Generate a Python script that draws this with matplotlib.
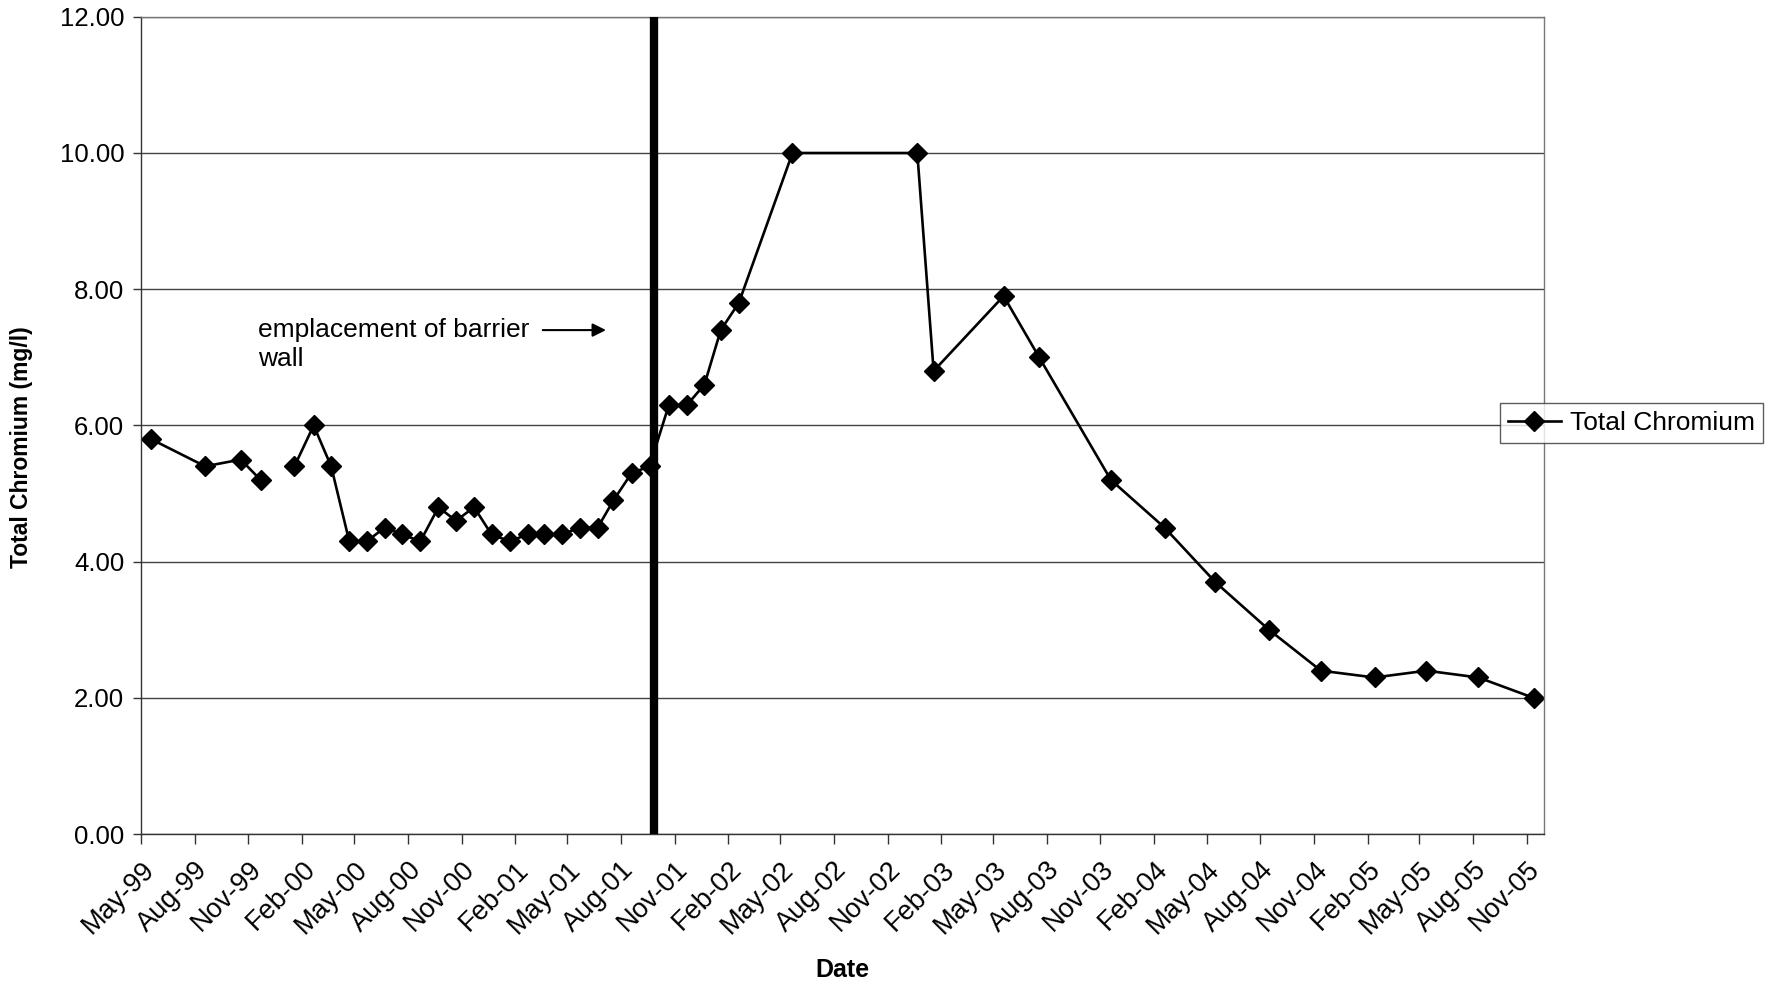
import numpy as np
import pandas as pd
import matplotlib
matplotlib.use('Agg')
import matplotlib.pyplot as plt
import matplotlib.dates as mdates
from matplotlib.ticker import FormatStrFormatter

# Sampling dates and total chromium (mg/l); a gap in the record after the 4th sample
dates = pd.to_datetime([
    '1999-05-18', '1999-08-19', '1999-10-19', '1999-11-22',
    '2000-01-19', '2000-02-21', '2000-03-22', '2000-04-22', '2000-05-22',
    '2000-06-22', '2000-07-22', '2000-08-22', '2000-09-22', '2000-10-22',
    '2000-11-22', '2000-12-22', '2001-01-22', '2001-02-22', '2001-03-22',
    '2001-04-22', '2001-05-22', '2001-06-22', '2001-07-19', '2001-08-19',
    '2001-09-19', '2001-10-22', '2001-11-22', '2001-12-22', '2002-01-19',
    '2002-02-19', '2002-05-22', '2002-12-22', '2003-01-19', '2003-05-19',
    '2003-07-19', '2003-11-19', '2004-02-19', '2004-05-16', '2004-08-16',
    '2004-11-13', '2005-02-13', '2005-05-13', '2005-08-10', '2005-11-13',
])
chromium = [
    5.8, 5.4, 5.5, 5.2,
    5.4, 6.0, 5.4, 4.3, 4.3,
    4.5, 4.4, 4.3, 4.8, 4.6,
    4.8, 4.4, 4.3, 4.4, 4.4,
    4.4, 4.5, 4.5, 4.9, 5.3,
    5.4, 6.3, 6.3, 6.6, 7.4,
    7.8, 10.0, 10.0, 6.8, 7.9,
    7.0, 5.2, 4.5, 3.7, 3.0,
    2.4, 2.3, 2.4, 2.3, 2.0,
]
gap_after = 4
barrier_date = pd.Timestamp('2001-09-27')

plt.rcParams['font.family'] = ['Liberation Sans', 'DejaVu Sans']

fig = plt.figure(figsize=(17.74, 9.86), dpi=100)
ax = fig.add_axes([0.0795, 0.154, 0.791, 0.829])

style = dict(color='black', lw=1.9, marker='D', markersize=10,
             markerfacecolor='black', markeredgecolor='black')
line, = ax.plot(dates[:gap_after], chromium[:gap_after], **style)
ax.plot(dates[gap_after:], chromium[gap_after:], **style)

# barrier wall emplacement
ax.plot([barrier_date, barrier_date], [0, 12], color='black', lw=6, solid_capstyle='butt', zorder=4)

ax.set_ylim(0, 12)
ax.set_xlim(pd.Timestamp('1999-05-01'), pd.Timestamp('2005-12-01'))
ax.set_yticks(np.arange(0, 12.1, 2))
ax.yaxis.set_major_formatter(FormatStrFormatter('%.2f'))
ax.xaxis.set_major_locator(mdates.MonthLocator(bymonth=[2, 5, 8, 11]))
ax.xaxis.set_major_formatter(mdates.DateFormatter('%b-%y'))

ax.grid(axis='y', color='#444444', lw=1)
ax.set_axisbelow(True)
for s in ['top', 'right']:
    ax.spines[s].set_color('#777777')
    ax.spines[s].set_linewidth(1)
for s in ['left', 'bottom']:
    ax.spines[s].set_color('#333333')
    ax.spines[s].set_linewidth(1)

ax.tick_params(axis='y', length=6, width=1, color='#333333', pad=6, labelsize=18.5)
ax.tick_params(axis='x', length=7, width=1, color='#333333', pad=9, labelsize=19.5)
for lab in ax.get_xticklabels():
    lab.set_rotation(45)
    lab.set_ha('right')
    lab.set_rotation_mode('anchor')

ax.set_ylabel('Total Chromium (mg/l)', fontsize=16.5, fontweight='bold')
ax.yaxis.set_label_coords(-0.077, 0.474)
ax.set_xlabel('Date', fontsize=18, fontweight='bold')
ax.xaxis.set_label_coords(0.5, -0.152)

ax.text(pd.Timestamp('1999-11-17'), 7.19, 'emplacement of barrier\nwall', fontsize=19,
        va='center', ha='left', linespacing=1.3)
ax.annotate('', xy=(pd.Timestamp('2001-07-11'), 7.4), xytext=(pd.Timestamp('2001-03-15'), 7.4),
            arrowprops=dict(arrowstyle='-|>', color='black', lw=1.5, mutation_scale=20))

fig.legend([line], ['Total Chromium'], loc='center left', bbox_to_anchor=(0.8455, 0.571),
           fontsize=19, frameon=True, fancybox=False, edgecolor='#333333', borderaxespad=0,
           handlelength=2.0, borderpad=0.3, handletextpad=0.35)

fig.savefig('out.png', dpi=100)
